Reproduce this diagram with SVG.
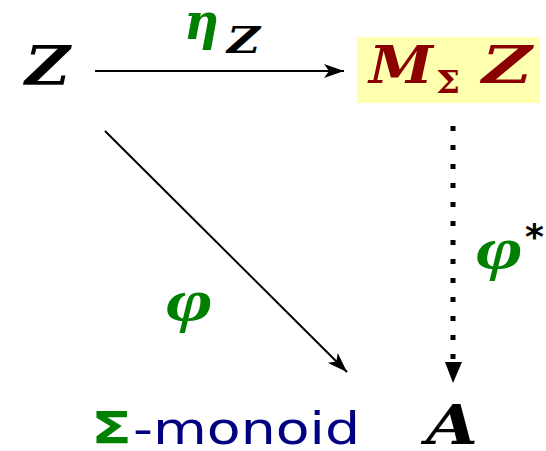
<svg xmlns="http://www.w3.org/2000/svg" width="546" height="451" viewBox="0 0 546 451">
<style>
.m{font-family:"DejaVu Serif","Liberation Serif",serif;font-style:italic;font-weight:bold}
.p{font-family:"Liberation Serif","DejaVu Serif",serif;font-style:italic;font-weight:bold;fill:#008000}
.g{fill:#008000}
.k{fill:#000}
.r{fill:#8b0000}
.s{font-family:"DejaVu Sans","Noto Sans",sans-serif}
</style>
<defs>
<marker id="ahl" viewBox="0 0 20 14" refX="20" refY="7" markerWidth="20" markerHeight="14" markerUnits="userSpaceOnUse" orient="auto">
<path d="M0,0 L20,7 L0,14 L5,7 z" fill="#000"/>
</marker>
</defs>
<g id="node-Z"><text class="m k" x="25" y="85" font-size="55" textLength="45" lengthAdjust="spacingAndGlyphs">Z</text></g>
<g id="node-MZ">
<rect x="357" y="37" width="183" height="66" fill="#ffffb0"/>
<text class="m r" x="369" y="83" font-size="52" textLength="64" lengthAdjust="spacingAndGlyphs">M</text>
<text class="r" x="436" y="93" font-size="32" font-family="DejaVu Serif,serif" font-weight="bold" textLength="24" lengthAdjust="spacingAndGlyphs">Σ</text>
<text class="m r" x="482" y="83" font-size="52" textLength="50" lengthAdjust="spacingAndGlyphs">Z</text>
</g>
<g id="node-A"><text class="m k" x="426" y="444" font-size="54" textLength="52" lengthAdjust="spacingAndGlyphs">A</text></g>
<g id="node-monoid"><text class="s" y="444" font-size="45"><tspan x="91" fill="#008000" font-weight="bold" textLength="41" lengthAdjust="spacingAndGlyphs">Σ</tspan><tspan x="133" fill="#000080" textLength="227" lengthAdjust="spacingAndGlyphs">-monoid</tspan></text></g>
<g id="connectors" stroke="#000" fill="none">
<line x1="95" y1="71" x2="344" y2="71" stroke-width="2" marker-end="url(#ahl)"/>
<line x1="105" y1="131" x2="347" y2="372" stroke-width="2" marker-end="url(#ahl)"/>
<line x1="453" y1="126" x2="453" y2="363" stroke-width="5" stroke-dasharray="5 14"/>
<path d="M445,362 L462,362 L453,383 z" fill="#000" stroke="none"/>
</g>
<g id="labels">
<text class="m g" x="184" y="39" font-size="50" textLength="35" lengthAdjust="spacingAndGlyphs">η</text>
<text class="m k" x="227" y="53" font-size="38" textLength="33" lengthAdjust="spacingAndGlyphs">Z</text>
<text class="p" x="166" y="320" font-size="60" textLength="47" lengthAdjust="spacingAndGlyphs">φ</text>
<text class="p" x="476" y="268" font-size="60" textLength="47" lengthAdjust="spacingAndGlyphs">φ</text>
<text class="s k" x="525" y="249" font-size="36" font-weight="bold">*</text>
</g>
</svg>
